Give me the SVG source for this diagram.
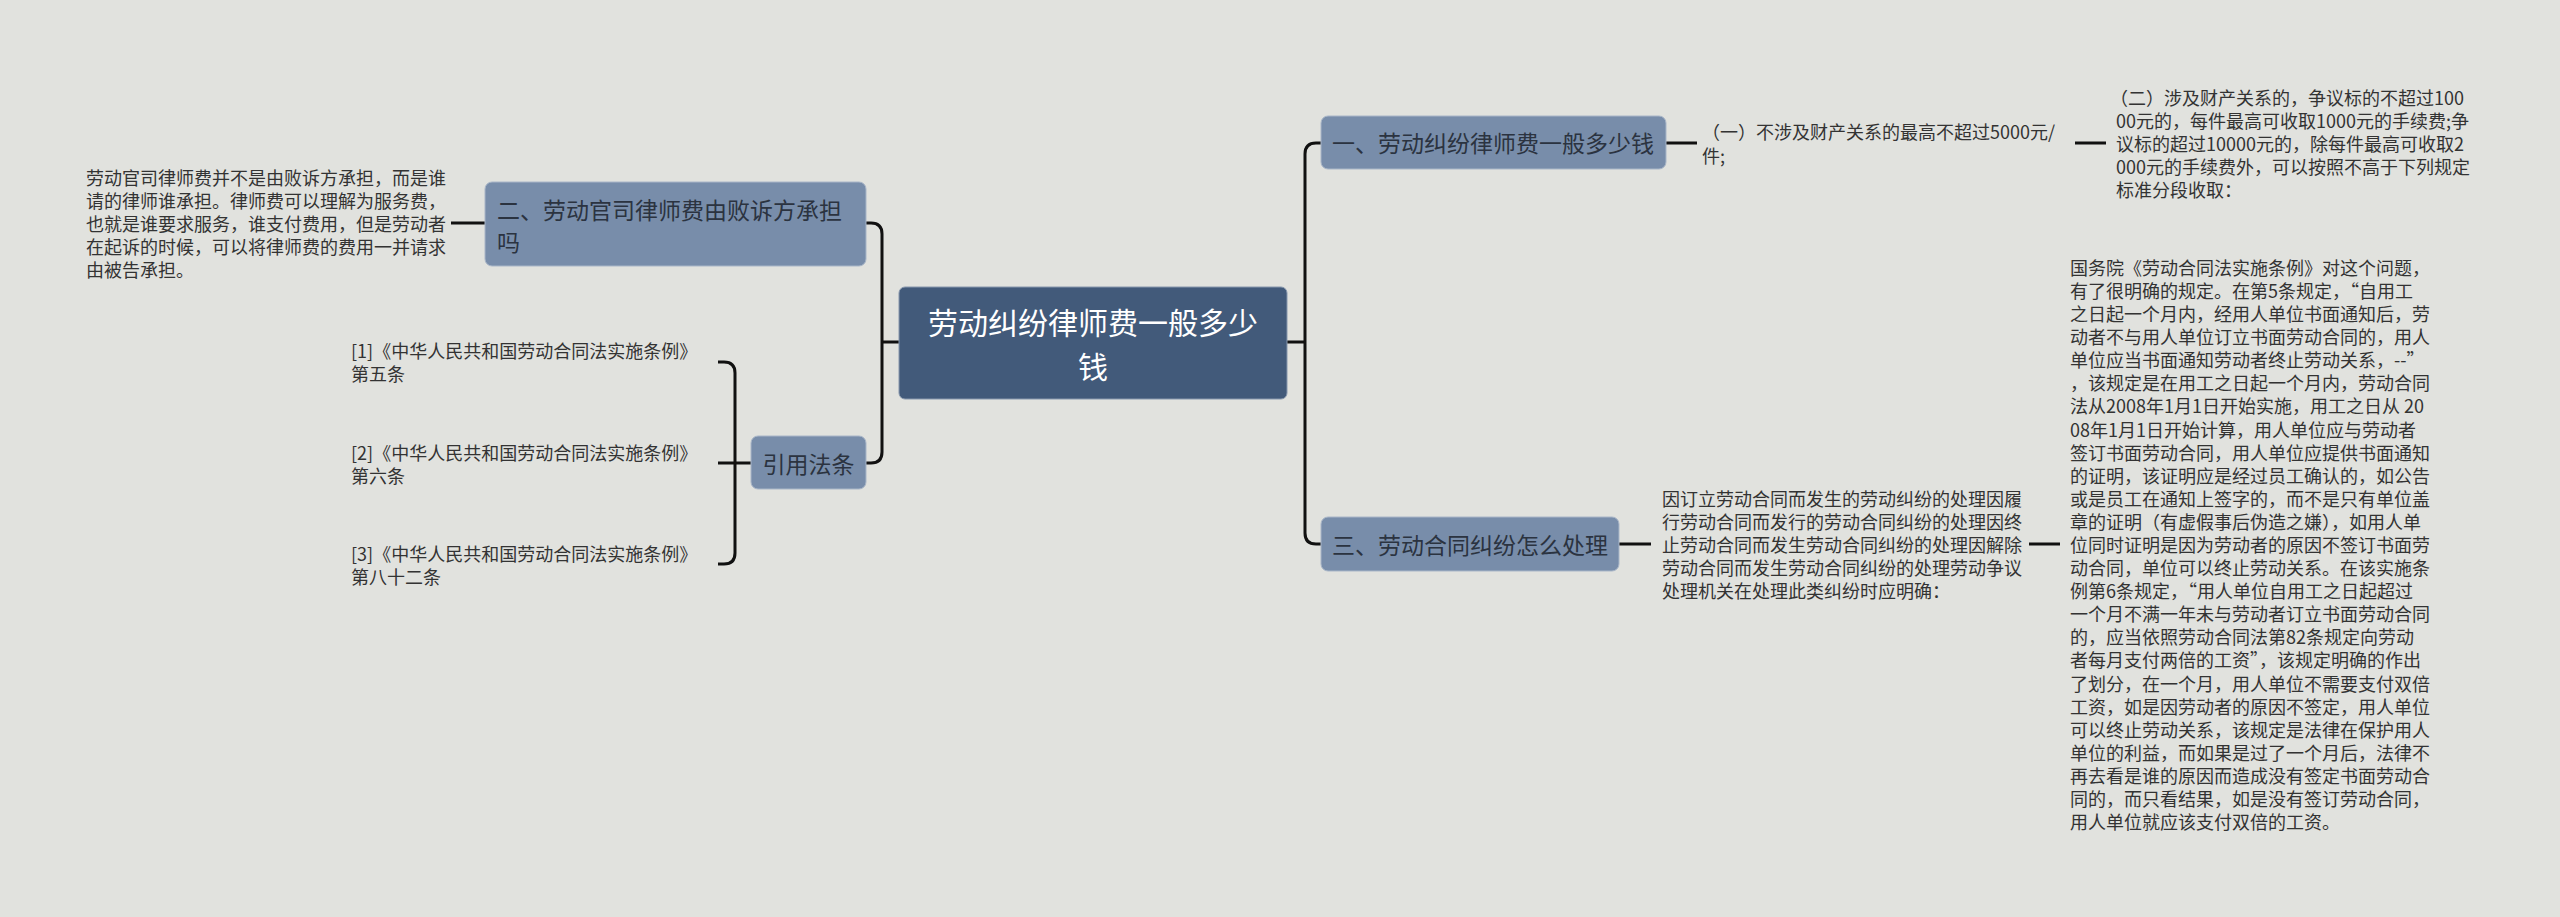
<svg xmlns="http://www.w3.org/2000/svg" width="2560" height="917" viewBox="0 0 2560 917">
<style>
.bg{fill:#e1e2de}
.node{fill:#788daa;stroke:#a9b6c8;stroke-width:1}
.root{fill:#425a7a;stroke:#8797ad;stroke-width:1}
.nt{font-family:"Noto Sans CJK SC","Noto Sans",sans-serif;font-size:23px;fill:#2b3340;dominant-baseline:central}
.rt{font-family:"Noto Sans CJK SC","Noto Sans",sans-serif;font-size:30px;fill:#ffffff;dominant-baseline:central;text-anchor:middle}
.lt{font-family:"Noto Sans CJK SC","Noto Sans",sans-serif;font-size:18px;fill:#333333;dominant-baseline:central}
.conn path{fill:none;stroke:#111111;stroke-width:3;stroke-linecap:butt}
</style>
<rect class="bg" x="0" y="0" width="2560" height="917"/>

<g id="connectors" class="conn">
  <path d="M1287,342 H1305"/>
  <path d="M1321,143 H1316 Q1305,143 1305,154 V533 Q1305,544 1316,544 H1321"/>
  <path d="M899,342 H882"/>
  <path d="M866,223 H871 Q882,223 882,234 V452 Q882,463 871,463 H866"/>
  <path d="M485,223 H451"/>
  <path d="M751,463 H718"/>
  <path d="M718,362 H724 Q735,362 735,373 V553 Q735,564 724,564 H718"/>
  <path d="M1666,143 H1697"/>
  <path d="M2075,143 H2106"/>
  <path d="M1619,544 H1651"/>
  <path d="M2029,544 H2060"/>
</g>

<g id="root">
  <rect class="root" x="899" y="287" width="388" height="112" rx="6"/>
  <text class="rt" x="1093" y="321">劳动纠纷律师费一般多少</text>
  <text class="rt" x="1093" y="365">钱</text>
</g>

<g id="node-2">
  <rect class="node" x="485" y="182" width="381" height="84" rx="7"/>
  <text class="nt" x="497" y="209">二、劳动官司律师费由败诉方承担</text>
  <text class="nt" x="497" y="241">吗</text>
</g>

<g id="node-2-text">
  <text class="lt" x="86" y="177">劳动官司律师费并不是由败诉方承担，而是谁</text>
  <text class="lt" x="86" y="200">请的律师谁承担。律师费可以理解为服务费，</text>
  <text class="lt" x="86" y="223">也就是谁要求服务，谁支付费用，但是劳动者</text>
  <text class="lt" x="86" y="246">在起诉的时候，可以将律师费的费用一并请求</text>
  <text class="lt" x="86" y="269">由被告承担。</text>
</g>

<g id="node-law">
  <rect class="node" x="751" y="436" width="115" height="53" rx="7"/>
  <text class="nt" x="808.5" y="463" text-anchor="middle">引用法条</text>
</g>

<g id="law-1">
  <text class="lt" x="351" y="350">[1]《中华人民共和国劳动合同法实施条例》</text>
  <text class="lt" x="351" y="373">第五条</text>
</g>
<g id="law-2">
  <text class="lt" x="351" y="452">[2]《中华人民共和国劳动合同法实施条例》</text>
  <text class="lt" x="351" y="475">第六条</text>
</g>
<g id="law-3">
  <text class="lt" x="351" y="553">[3]《中华人民共和国劳动合同法实施条例》</text>
  <text class="lt" x="351" y="576">第八十二条</text>
</g>

<g id="node-1">
  <rect class="node" x="1321" y="116" width="345" height="53" rx="7"/>
  <text class="nt" x="1332" y="142">一、劳动纠纷律师费一般多少钱</text>
</g>

<g id="node-1-text-a">
  <text class="lt" x="1702" y="131">（一）不涉及财产关系的最高不超过5000元/</text>
  <text class="lt" x="1702" y="155">件;</text>
</g>

<g id="node-1-text-b">
  <text class="lt" x="2110" y="97">（二）涉及财产关系的，争议标的不超过100</text>
  <text class="lt" x="2116" y="120">00元的，每件最高可收取1000元的手续费;争</text>
  <text class="lt" x="2116" y="143">议标的超过10000元的，除每件最高可收取2</text>
  <text class="lt" x="2116" y="166">000元的手续费外，可以按照不高于下列规定</text>
  <text class="lt" x="2116" y="189">标准分段收取：</text>
</g>

<g id="node-3">
  <rect class="node" x="1321" y="517" width="298" height="54" rx="7"/>
  <text class="nt" x="1332" y="544">三、劳动合同纠纷怎么处理</text>
</g>

<g id="node-3-text-a">
  <text class="lt" x="1662" y="498">因订立劳动合同而发生的劳动纠纷的处理因履</text>
  <text class="lt" x="1662" y="521">行劳动合同而发行的劳动合同纠纷的处理因终</text>
  <text class="lt" x="1662" y="544">止劳动合同而发生劳动合同纠纷的处理因解除</text>
  <text class="lt" x="1662" y="567">劳动合同而发生劳动合同纠纷的处理劳动争议</text>
  <text class="lt" x="1662" y="590">处理机关在处理此类纠纷时应明确：</text>
</g>

<g id="node-3-text-b">
  <text class="lt" x="2070" y="267">国务院《劳动合同法实施条例》对这个问题，</text>
  <text class="lt" x="2070" y="290">有了很明确的规定。在第5条规定，“自用工</text>
  <text class="lt" x="2070" y="313">之日起一个月内，经用人单位书面通知后，劳</text>
  <text class="lt" x="2070" y="336">动者不与用人单位订立书面劳动合同的，用人</text>
  <text class="lt" x="2070" y="359">单位应当书面通知劳动者终止劳动关系，--”</text>
  <text class="lt" x="2070" y="382">，该规定是在用工之日起一个月内，劳动合同</text>
  <text class="lt" x="2070" y="405">法从2008年1月1日开始实施，用工之日从 20</text>
  <text class="lt" x="2070" y="429">08年1月1日开始计算，用人单位应与劳动者</text>
  <text class="lt" x="2070" y="452">签订书面劳动合同，用人单位应提供书面通知</text>
  <text class="lt" x="2070" y="475">的证明，该证明应是经过员工确认的，如公告</text>
  <text class="lt" x="2070" y="498">或是员工在通知上签字的，而不是只有单位盖</text>
  <text class="lt" x="2070" y="521">章的证明（有虚假事后伪造之嫌），如用人单</text>
  <text class="lt" x="2070" y="544">位同时证明是因为劳动者的原因不签订书面劳</text>
  <text class="lt" x="2070" y="567">动合同，单位可以终止劳动关系。在该实施条</text>
  <text class="lt" x="2070" y="590">例第6条规定，“用人单位自用工之日起超过</text>
  <text class="lt" x="2070" y="613">一个月不满一年未与劳动者订立书面劳动合同</text>
  <text class="lt" x="2070" y="636">的，应当依照劳动合同法第82条规定向劳动</text>
  <text class="lt" x="2070" y="659">者每月支付两倍的工资”，该规定明确的作出</text>
  <text class="lt" x="2070" y="683">了划分，在一个月，用人单位不需要支付双倍</text>
  <text class="lt" x="2070" y="706">工资，如是因劳动者的原因不签定，用人单位</text>
  <text class="lt" x="2070" y="729">可以终止劳动关系，该规定是法律在保护用人</text>
  <text class="lt" x="2070" y="752">单位的利益，而如果是过了一个月后，法律不</text>
  <text class="lt" x="2070" y="775">再去看是谁的原因而造成没有签定书面劳动合</text>
  <text class="lt" x="2070" y="798">同的，而只看结果，如是没有签订劳动合同，</text>
  <text class="lt" x="2070" y="821">用人单位就应该支付双倍的工资。</text>
</g>
</svg>
